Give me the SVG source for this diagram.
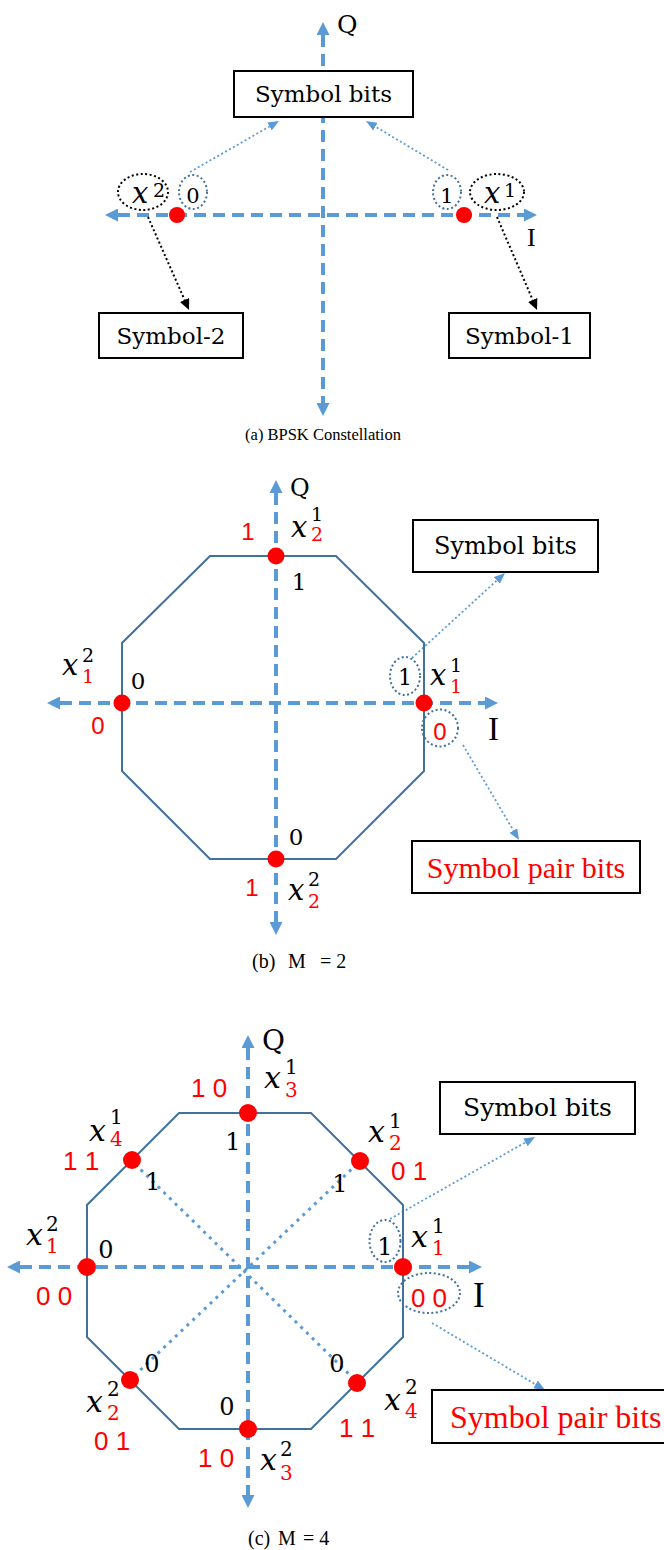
<svg xmlns="http://www.w3.org/2000/svg" width="664" height="1550" viewBox="0 0 664 1550">
<style>
.ax{stroke:#5B9BD5;stroke-width:4;stroke-dasharray:12 7;fill:none}
.dt{stroke:#5B9BD5;stroke-width:1.8;stroke-dasharray:2 2.5;fill:none}
.dd{stroke:#5B9BD5;stroke-width:3;stroke-dasharray:3 5;fill:none}
.bk{stroke:#000;stroke-width:2;stroke-dasharray:2 2.5;fill:none}
.oct{stroke:#41719C;stroke-width:2;fill:none}
.box{fill:#fff;stroke:#000;stroke-width:2}
.el{fill:none;stroke:#41719C;stroke-width:2;stroke-dasharray:2 2.5}
.elk{fill:none;stroke:#000;stroke-width:2;stroke-dasharray:2 2.5}
.pt{fill:#FF0000}
.sr{font-family:"DejaVu Serif",serif;fill:#000}
.mx{font-family:"DejaVu Serif",serif;font-style:italic;font-size:29px;fill:#000}
.mxc{font-family:"DejaVu Serif",serif;font-style:italic;font-size:30px;fill:#000}
.sc{font-family:"DejaVu Serif",serif;font-style:normal;font-size:19px;fill:#000}
.scc{font-family:"DejaVu Serif",serif;font-style:normal;font-size:20px;fill:#000}
.rs{font-family:"Liberation Sans",Arial,sans-serif;fill:#FF0000}
.tm{font-family:"Liberation Serif","Times New Roman",serif;fill:#000}
.red{fill:#FF0000}
</style>
<defs>
<marker id="ah" viewBox="0 0 13 13" markerWidth="13" markerHeight="13" refX="0" refY="6.5" orient="auto-start-reverse" markerUnits="userSpaceOnUse"><path d="M0,0L13,6.5L0,13z" fill="#5B9BD5"/></marker>
<marker id="sh" viewBox="0 0 11 9" markerWidth="11" markerHeight="9" refX="0" refY="4.5" orient="auto" markerUnits="userSpaceOnUse"><path d="M0,0L11,4.5L0,9z" fill="#5B9BD5"/></marker>
<marker id="kh" viewBox="0 0 11 10" markerWidth="11" markerHeight="10" refX="0" refY="5" orient="auto" markerUnits="userSpaceOnUse"><path d="M0,0L11,5L0,10z" fill="#000"/></marker>
</defs>

<g id="connectors">
  <!-- panel a -->
  <line class="ax" x1="323" y1="35" x2="323" y2="403" marker-start="url(#ah)" marker-end="url(#ah)"/>
  <line class="ax" x1="118" y1="215" x2="524" y2="215" marker-start="url(#ah)" marker-end="url(#ah)"/>
  <line class="dt" x1="190" y1="172" x2="269.5" y2="126.5" marker-end="url(#sh)"/>
  <line class="dt" x1="448" y1="170" x2="375.4" y2="126.6" marker-end="url(#sh)"/>
  <line class="bk" x1="148" y1="217" x2="184.6" y2="299.9" marker-end="url(#kh)"/>
  <line class="bk" x1="497" y1="217" x2="532.7" y2="299.9" marker-end="url(#kh)"/>
  <!-- panel b -->
  <line class="ax" x1="276" y1="493" x2="276" y2="922" marker-start="url(#ah)" marker-end="url(#ah)"/>
  <line class="ax" x1="60" y1="703" x2="485" y2="703" marker-start="url(#ah)" marker-end="url(#ah)"/>
  <line class="dt" x1="412" y1="658" x2="496.9" y2="580.4" marker-end="url(#sh)"/>
  <line class="dt" x1="463" y1="745" x2="513.4" y2="830.5" marker-end="url(#sh)"/>
  <!-- panel c -->
  <line class="ax" x1="248" y1="1048" x2="248" y2="1495" marker-start="url(#ah)" marker-end="url(#ah)"/>
  <line class="ax" x1="20" y1="1267" x2="469" y2="1267" marker-start="url(#ah)" marker-end="url(#ah)"/>
  <line class="dd" x1="135" y1="1164" x2="355" y2="1380"/>
  <line class="dd" x1="357" y1="1164" x2="133" y2="1377"/>
  <line class="dt" x1="390" y1="1219" x2="525.4" y2="1142.4" marker-end="url(#sh)"/>
  <line class="dt" x1="432" y1="1323" x2="535.5" y2="1384.4" marker-end="url(#sh)"/>
</g>

<!-- ============ Panel (a) ============ -->
<g id="a-Q"><text class="sr" x="337" y="33" font-size="25">Q</text></g>
<g id="a-I"><text class="tm" x="527" y="246" font-size="26">I</text></g>
<g id="a-symbol-bits"><rect class="box" x="234" y="71" width="179" height="46"/><text class="sr" x="323.5" y="102" font-size="23" text-anchor="middle">Symbol bits</text></g>
<g id="a-x2"><ellipse class="elk" cx="143" cy="192" rx="25" ry="18"/><text class="mx" x="132" y="203">x<tspan class="sc" x="153" y="197">2</tspan></text></g>
<g id="a-bit0"><ellipse class="el" cx="193" cy="192" rx="14" ry="17"/><text class="sr" x="193" y="203" font-size="21" text-anchor="middle">0</text></g>
<g id="a-bit1"><ellipse class="el" cx="447" cy="192" rx="14" ry="17"/><text class="sr" x="447" y="203" font-size="21" text-anchor="middle">1</text></g>
<g id="a-x1"><ellipse class="elk" cx="497" cy="192" rx="27" ry="18"/><text class="mx" x="484" y="203">x<tspan class="sc" x="504" y="197">1</tspan></text></g>
<g id="a-pt2"><circle class="pt" cx="177" cy="215" r="8"/></g>
<g id="a-pt1"><circle class="pt" cx="464" cy="215" r="8"/></g>
<g id="a-symbol2"><rect class="box" x="99" y="313" width="144" height="45"/><text class="sr" x="171" y="344" font-size="23" text-anchor="middle">Symbol-2</text></g>
<g id="a-symbol1"><rect class="box" x="449" y="313" width="141" height="45"/><text class="sr" x="519.5" y="344" font-size="23" text-anchor="middle">Symbol-1</text></g>
<g id="a-caption"><text class="tm" x="323" y="440" font-size="16.5" text-anchor="middle">(a) BPSK Constellation</text></g>

<!-- ============ Panel (b) ============ -->
<g id="b-octagon"><polygon class="oct" points="210,556 336,556 424,643 424,771 336,859 210,859 122,771 122,643"/></g>
<g id="b-Q"><text class="sr" x="290" y="496" font-size="24">Q</text></g>
<g id="b-I"><text class="tm" x="488" y="740" font-size="33">I</text></g>
<g id="b-top">
  <circle class="pt" cx="276" cy="556" r="8.5"/>
  <text class="rs" x="248" y="540" font-size="24" text-anchor="middle">1</text>
  <text class="mx" x="291" y="537">x<tspan class="sc" x="311" y="521">1</tspan><tspan class="sc red" x="311" y="541">2</tspan></text>
  <text class="sr" x="299" y="590" font-size="23" text-anchor="middle">1</text>
</g>
<g id="b-left">
  <circle class="pt" cx="122" cy="703" r="8.5"/>
  <text class="mx" x="62" y="675">x<tspan class="sc" x="82" y="662">2</tspan><tspan class="sc red" x="82" y="683">1</tspan></text>
  <text class="sr" x="138" y="689" font-size="23" text-anchor="middle">0</text>
  <text class="rs" x="98" y="734" font-size="24" text-anchor="middle">0</text>
</g>
<g id="b-right">
  <circle class="pt" cx="424" cy="703" r="8.5"/>
  <ellipse class="el" cx="405" cy="676" rx="15" ry="19"/>
  <text class="sr" x="405" y="685" font-size="22" text-anchor="middle">1</text>
  <text class="mx" x="430" y="685">x<tspan class="sc" x="450" y="672">1</tspan><tspan class="sc red" x="450" y="693">1</tspan></text>
  <ellipse class="el" cx="440" cy="728" rx="18" ry="18.5"/>
  <text class="rs" x="440" y="740" font-size="24" text-anchor="middle">0</text>
</g>
<g id="b-bottom">
  <circle class="pt" cx="276" cy="859" r="8.5"/>
  <text class="sr" x="296" y="845" font-size="23" text-anchor="middle">0</text>
  <text class="rs" x="252" y="896" font-size="24" text-anchor="middle">1</text>
  <text class="mx" x="288" y="900">x<tspan class="sc" x="308" y="886">2</tspan><tspan class="sc red" x="308" y="908">2</tspan></text>
</g>
<g id="b-symbol-bits"><rect class="box" x="413" y="520" width="185" height="52"/><text class="sr" x="505.5" y="554" font-size="24" text-anchor="middle">Symbol bits</text></g>
<g id="b-pair-bits"><rect class="box" x="412" y="841" width="228" height="52"/><text class="tm red" x="526" y="878" font-size="30" text-anchor="middle">Symbol pair bits</text></g>
<g id="b-caption"><text class="tm" y="968" font-size="20"><tspan x="252">(b)</tspan><tspan x="288">M</tspan><tspan x="320">= 2</tspan></text></g>

<!-- ============ Panel (c) ============ -->
<g id="c-octagon"><polygon class="oct" points="179,1113 311,1113 403,1205 403,1337 311,1429 179,1429 87,1337 87,1205"/></g>
<g id="c-Q"><text class="sr" x="262" y="1050" font-size="28">Q</text></g>
<g id="c-I"><text class="tm" x="473" y="1307" font-size="35">I</text></g>
<g id="c-top">
  <circle class="pt" cx="248" cy="1113" r="9"/>
  <text class="rs" x="191" y="1097" font-size="26">1 0</text>
  <text class="mxc" x="264" y="1088">x<tspan class="scc" x="285" y="1074">1</tspan><tspan class="scc red" x="285" y="1097">3</tspan></text>
  <text class="sr" x="233" y="1150" font-size="24" text-anchor="middle">1</text>
</g>
<g id="c-upper-left">
  <circle class="pt" cx="132" cy="1160" r="9"/>
  <text class="mxc" x="89" y="1141">x<tspan class="scc" x="110" y="1124">1</tspan><tspan class="scc red" x="110" y="1146">4</tspan></text>
  <text class="rs" x="63" y="1170" font-size="26">1 1</text>
  <text class="sr" x="153" y="1190" font-size="24" text-anchor="middle">1</text>
</g>
<g id="c-upper-right">
  <circle class="pt" cx="360" cy="1161" r="9"/>
  <text class="mxc" x="368" y="1142">x<tspan class="scc" x="389" y="1128">1</tspan><tspan class="scc red" x="389" y="1150">2</tspan></text>
  <text class="rs" x="391" y="1180" font-size="26">0 1</text>
  <text class="sr" x="340" y="1192" font-size="24" text-anchor="middle">1</text>
</g>
<g id="c-left">
  <circle class="pt" cx="87" cy="1267" r="9"/>
  <text class="mxc" x="26" y="1245">x<tspan class="scc" x="46" y="1231">2</tspan><tspan class="scc red" x="46" y="1253">1</tspan></text>
  <text class="sr" x="106" y="1258" font-size="24" text-anchor="middle">0</text>
  <text class="rs" x="36" y="1305" font-size="26">0 0</text>
</g>
<g id="c-right">
  <circle class="pt" cx="403" cy="1267" r="9"/>
  <ellipse class="el" cx="385" cy="1241" rx="15.5" ry="21"/>
  <text class="sr" x="385" y="1255" font-size="24" text-anchor="middle">1</text>
  <text class="mxc" x="411" y="1247">x<tspan class="scc" x="432" y="1233">1</tspan><tspan class="scc red" x="432" y="1255">1</tspan></text>
  <ellipse class="el" cx="429" cy="1293" rx="31" ry="20"/>
  <text class="rs" x="429" y="1307" font-size="26" text-anchor="middle">0 0</text>
</g>
<g id="c-lower-left">
  <circle class="pt" cx="130" cy="1380" r="9"/>
  <text class="sr" x="152" y="1372" font-size="24" text-anchor="middle">0</text>
  <text class="mxc" x="86" y="1412">x<tspan class="scc" x="107" y="1396">2</tspan><tspan class="scc red" x="107" y="1420">2</tspan></text>
  <text class="rs" x="94" y="1450" font-size="26">0 1</text>
</g>
<g id="c-bottom">
  <circle class="pt" cx="248" cy="1429" r="9"/>
  <text class="sr" x="227" y="1415" font-size="24" text-anchor="middle">0</text>
  <text class="rs" x="198" y="1467" font-size="26">1 0</text>
  <text class="mxc" x="260" y="1470">x<tspan class="scc" x="280" y="1456">2</tspan><tspan class="scc red" x="280" y="1480">3</tspan></text>
</g>
<g id="c-lower-right">
  <circle class="pt" cx="357" cy="1383" r="9"/>
  <text class="sr" x="337" y="1372" font-size="24" text-anchor="middle">0</text>
  <text class="mxc" x="384" y="1410">x<tspan class="scc" x="405" y="1394">2</tspan><tspan class="scc red" x="405" y="1418">4</tspan></text>
  <text class="rs" x="339" y="1437" font-size="26">1 1</text>
</g>
<g id="c-symbol-bits"><rect class="box" x="440" y="1082" width="195" height="52"/><text class="sr" x="537.5" y="1116" font-size="25" text-anchor="middle">Symbol bits</text></g>
<g id="c-pair-bits"><rect class="box" x="432" y="1390" width="240" height="53"/><text class="tm red" x="450" y="1428" font-size="32">Symbol pair bits</text></g>
<g id="c-caption"><text class="tm" y="1545" font-size="20"><tspan x="248">(c)</tspan><tspan x="278">M</tspan><tspan x="303">= 4</tspan></text></g>
</svg>
